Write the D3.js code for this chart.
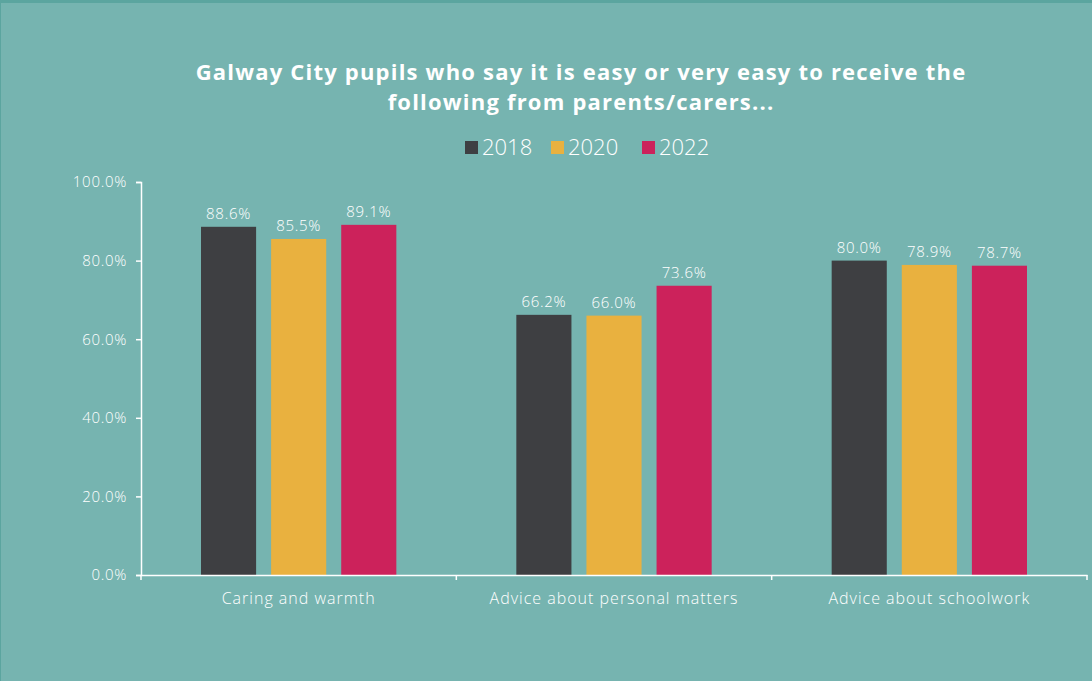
<!DOCTYPE html>
<html>
<head>
<meta charset="utf-8">
<title>Galway City pupils</title>
<style>
  body { margin: 0; background: #76b4b0; }
  svg { display: block; font-family: "Open Sans", sans-serif; }
</style>
</head>
<body>
<script src="https://cdn.jsdelivr.net/npm/d3@7"></script>
<script>
// data
var categories = ["Caring and warmth", "Advice about personal matters", "Advice about schoolwork"];
var years = ["2018", "2020", "2022"];
var values2018 = [88.6, 66.2, 80.0];
var values2020 = [85.5, 66.0, 78.9];
var values2022 = [89.1, 73.6, 78.7];
var yTicks = [0, 20, 40, 60, 80, 100];
var colours = ["#3e3f42", "#e9b13f", "#cc225b"];

var series = [values2018, values2020, values2022];

var W = 1092, H = 681;
var margin = {top: 182, right: 5, bottom: 106, left: 141};
var width = W - margin.left - margin.right,
    height = H - margin.top - margin.bottom;

var svgGraph = d3.select("body").append("svg")
    .attr("width", W)
    .attr("height", H);

// background + top strip
svgGraph.append("rect").attr("width", W).attr("height", H).attr("fill", "#76b4b0");
svgGraph.append("rect").attr("width", W).attr("height", 3).attr("fill", "#5ba59f");
svgGraph.append("rect").attr("width", 1).attr("height", H).attr("fill", "#5ba59f");

// title
var title = svgGraph.append("text")
    .attr("text-anchor", "middle")
    .attr("fill", "#ffffff")
    .style("font-weight", "700")
    .style("font-size", "22px")
    .style("letter-spacing", "1.2px");
title.append("tspan").attr("x", 581).attr("y", 80)
    .text("Galway City pupils who say it is easy or very easy to receive the");
title.append("tspan").attr("x", 581).attr("y", 110)
    .text("following from parents/carers...");

// legend
var legendX = [465, 551, 642];
var legend = svgGraph.selectAll(".legend")
    .data(years)
    .enter().append("g")
    .attr("class", "legend")
    .attr("transform", function(d, i) { return "translate(" + legendX[i] + ",141)"; });
legend.append("rect")
    .attr("width", 13).attr("height", 13)
    .attr("fill", function(d, i) { return colours[i]; });
legend.append("text")
    .attr("x", 17).attr("y", 14)
    .attr("fill", "#ffffff")
    .style("font-size", "22px")
    .style("font-weight", "300")
    .text(function(d) { return d; });

var svg = svgGraph.append("g")
    .attr("transform", "translate(" + margin.left + "," + margin.top + ")");

var x0 = d3.scaleBand()
    .domain(categories)
    .range([0, width]);
var x1 = d3.scaleBand()
    .domain(years)
    .range([60, x0.bandwidth() - 60])
    .paddingInner(0.214);
var yScale = d3.scaleLinear()
    .domain([0, 100])
    .range([height, 0]);

// bars
var groups = svg.selectAll(".group")
    .data(categories)
    .enter().append("g")
    .attr("class", "group")
    .attr("transform", function(d) { return "translate(" + x0(d) + ",0)"; });

groups.selectAll("rect")
    .data(function(d, ci) { return years.map(function(yr, si) { return {year: yr, value: series[si][ci], si: si}; }); })
    .enter().append("rect")
    .attr("x", function(d) { return x1(d.year); })
    .attr("width", x1.bandwidth())
    .attr("y", function(d) { return yScale(d.value); })
    .attr("height", function(d) { return height - yScale(d.value); })
    .attr("fill", function(d) { return colours[d.si]; });

groups.selectAll(".label")
    .data(function(d, ci) { return years.map(function(yr, si) { return {year: yr, value: series[si][ci]}; }); })
    .enter().append("text")
    .attr("class", "label")
    .attr("x", function(d) { return x1(d.year) + x1.bandwidth() / 2; })
    .attr("y", function(d) { return yScale(d.value) - 8; })
    .attr("text-anchor", "middle")
    .attr("fill", "#ffffff")
    .style("font-size", "15px")
    .style("font-weight", "300")
    .style("letter-spacing", "0.7px")
    .text(function(d) { return d.value.toFixed(1) + "%"; });

// x axis
var xAxis = svg.append("g")
    .attr("transform", "translate(0," + height + ")")
    .call(d3.axisBottom(x0).tickSize(0).tickPadding(18));
xAxis.select(".domain").attr("stroke", "#ffffff").attr("stroke-width", 1.5);
xAxis.selectAll("text").attr("fill", "#ffffff").style("font-size", "16px").style("font-weight", "300")
    .style("font-family", "Open Sans").style("letter-spacing", "1px");
// boundary ticks between categories
xAxis.selectAll(".sep")
    .data(d3.range(categories.length + 1))
    .enter().append("line")
    .attr("class", "sep")
    .attr("x1", function(i) { return i * x0.step(); })
    .attr("x2", function(i) { return i * x0.step(); })
    .attr("y1", 0).attr("y2", 5)
    .attr("stroke", "#ffffff").attr("stroke-width", 1.5);

// y axis
var yAxis = svg.append("g")
    .call(d3.axisLeft(yScale).tickValues(yTicks).tickSize(5).tickPadding(9)
        .tickFormat(function(d) { return d.toFixed(1) + "%"; }));
yAxis.select(".domain").attr("stroke", "#ffffff").attr("stroke-width", 1.5);
yAxis.selectAll(".tick line").attr("stroke", "#ffffff").attr("stroke-width", 1.5);
yAxis.selectAll("text").attr("fill", "#ffffff").style("font-size", "15px").style("font-weight", "300")
    .style("font-family", "Open Sans").style("letter-spacing", "0.7px");
</script>
</body>
</html>
